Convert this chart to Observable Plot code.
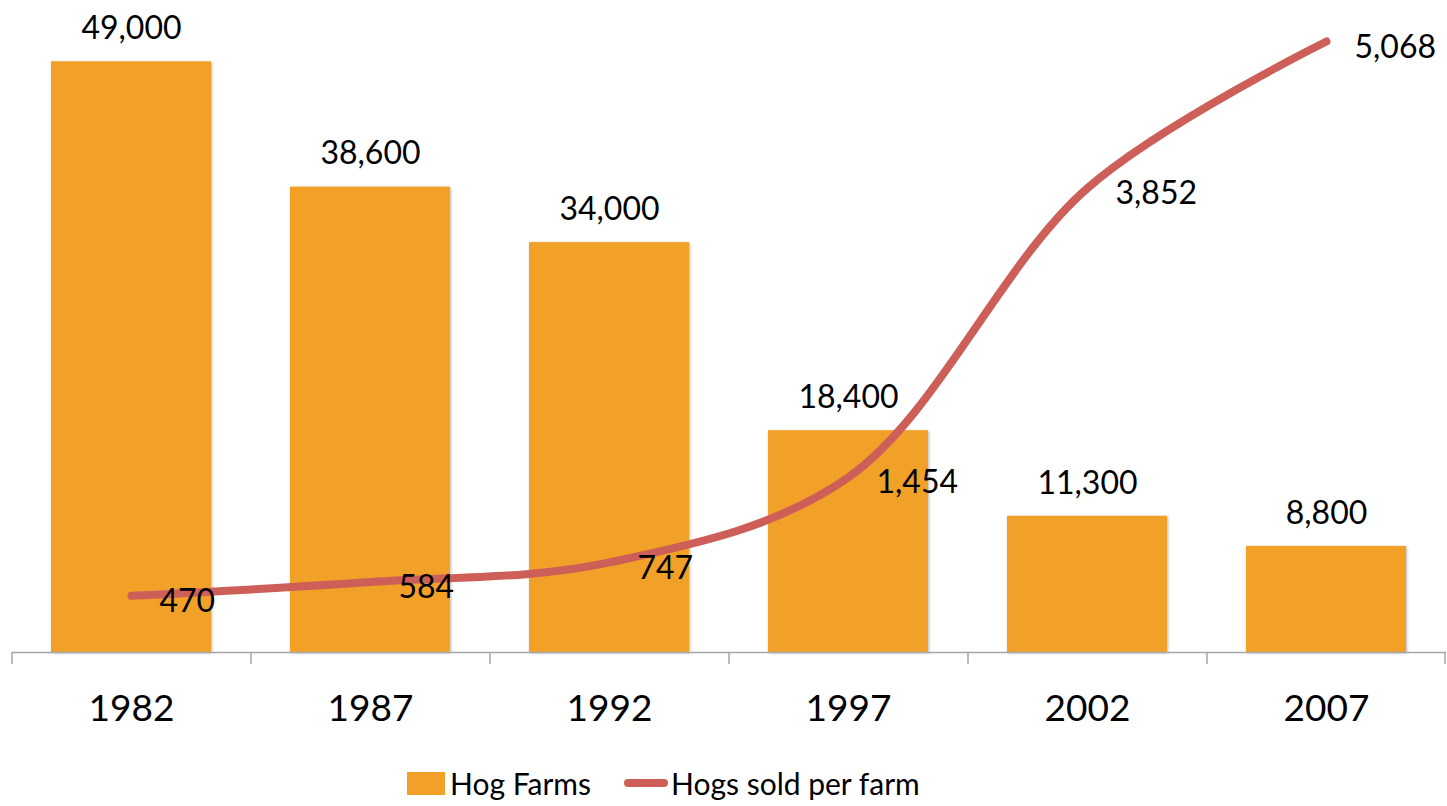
<!DOCTYPE html>
<html>
<head>
<meta charset="utf-8">
<script src="https://cdn.jsdelivr.net/npm/d3@7"></script>
<script src="https://cdn.jsdelivr.net/npm/@observablehq/plot@0.6"></script>
<style>
  html, body { margin: 0; padding: 0; background: #fff; }
  body { width: 1447px; height: 806px; overflow: hidden; font-family: Lato, "Open Sans", sans-serif; }
  #chart svg { display: block; }
  #chart g[aria-label="bar"] rect { filter: drop-shadow(1px 1px 1.5px rgba(0,0,0,0.28)); }
  .legend { display: flex; align-items: center; height: 46px; padding-left: 407px; font-size: 30px; color: #000; }
  .legend .item { display: flex; align-items: center; margin-right: 33px; }
  .sw-bar { width: 38px; height: 23px; background: #F1A028; margin-right: 5px; }
  .sw-line { width: 44px; height: 8px; border-radius: 4px; background: #CD5F58; margin-right: 3px; }
</style>
</head>
<body>
<div id="chart"></div>
<div class="legend">
  <div class="item"><div class="sw-bar"></div><span>Hog Farms</span></div>
  <div class="item"><div class="sw-line"></div><span>Hogs sold per farm</span></div>
</div>
<script>
const years = ["1982", "1987", "1992", "1997", "2002", "2007"];
const hogFarms = [49000, 38600, 34000, 18400, 11300, 8800];
const hogsSoldPerFarm = [470, 584, 747, 1454, 3852, 5068];

// primary (hidden) axis max and secondary (hidden) axis max
const primaryMax = 54000;
const secondaryMax = 5400;
const ratio = primaryMax / secondaryMax;

const rows = years.map((year, i) => ({year, farms: hogFarms[i], perFarm: hogsSoldPerFarm[i]}));
const fmt = d3.format(",");

const width = 1447, height = 760;
const marginLeft = 12, marginRight = 1;
const step = (width - marginLeft - marginRight) / years.length;

const chart = Plot.plot({
  width, height,
  marginTop: 1, marginBottom: 108, marginLeft, marginRight,
  style: {fontFamily: "Lato, 'Open Sans', sans-serif", color: "#000", background: "#fff"},
  x: {domain: years, paddingInner: 0.33, paddingOuter: 0.165, label: null},
  y: {domain: [0, primaryMax], axis: null},
  marks: [
    Plot.barY(rows, {x: "year", y: "farms", fill: "#F1A028"}),
    Plot.ruleY([0], {stroke: "#A6A6A6", strokeWidth: 1.5}),
    Plot.ruleX(years, {x: d => d, dx: -step / 2, y1: 0, y2: -1000, stroke: "#A6A6A6", strokeWidth: 1.5, clip: false}),
    Plot.ruleX([years[years.length - 1]], {x: d => d, dx: step / 2 - 1, y1: 0, y2: -1000, stroke: "#A6A6A6", strokeWidth: 1.5}),
    Plot.line(rows, {x: "year", y: d => d.perFarm * ratio, curve: "catmull-rom", stroke: "#CD5F58", strokeWidth: 8, strokeLinecap: "round", strokeLinejoin: "round"}),
    Plot.text(rows, {x: "year", y: "farms", text: d => fmt(d.farms), dy: -33, fontSize: 32, fill: "#000"}),
    Plot.text(rows, {x: "year", y: d => d.perFarm * ratio, text: d => fmt(d.perFarm), textAnchor: "start", dx: 28, dy: 6, fontSize: 32, fill: "#000"}),
    Plot.axisX({tickSize: 0, tickPadding: 42, fontSize: 37, label: null, fill: "#000"})
  ]
});
document.getElementById("chart").appendChild(chart);
</script>
</body>
</html>
